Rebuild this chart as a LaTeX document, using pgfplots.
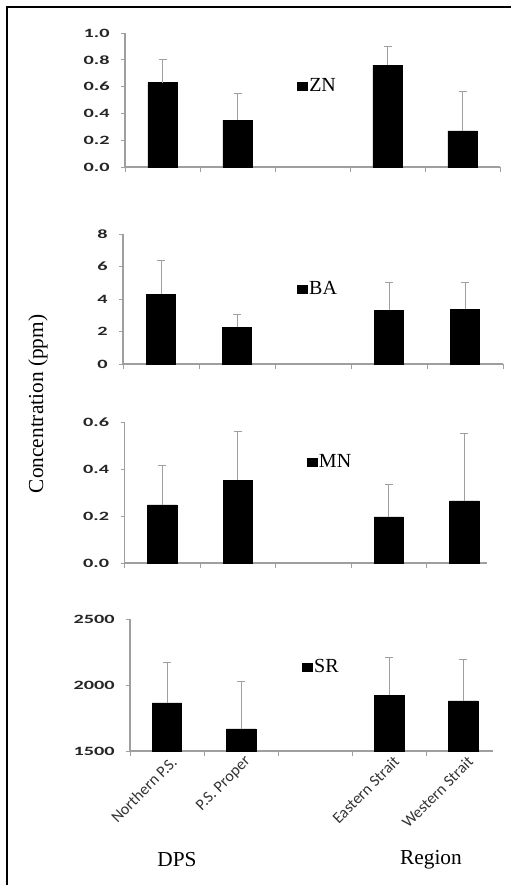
\documentclass[border=0pt]{standalone}
\usepackage{pgfplots}
\pgfplotsset{compat=1.18}
\usepackage{graphicx}
\usepackage{fontspec}
\setmainfont{Liberation Serif}
\newfontfamily\calibri{Carlito}

% tick numbers in the scan look wide and flat
\newcommand{\ytl}[1]{\scalebox{1.6}[1]{#1}}

\pgfplotsset{
  panel/.style={
    scale only axis, anchor=south west,
    axis x line*=bottom, axis y line*=left,
    axis line style={draw=gray!75, line width=0.9pt},
    tick style={draw=gray!75, line width=0.75pt},
    tick align=outside,
    /pgf/number format/assume math mode=true,
    xmin=-0.5,
    xtick={0,1,3,4}, xticklabels={},
    major x tick style={draw=none},
    minor xtick={-0.5,0.5,1.5,2.5,3.5,4.5},
    minor tick length=4pt, major tick length=3pt,
    yticklabel style={font=\calibri\bfseries\fontsize{9.5}{9.5}\selectfont,
      text=black!85, xshift=-5pt},
    legend style={draw=none, fill=none, inner sep=0pt, anchor=west,
      font=\fontsize{15}{15}\selectfont, nodes={inner sep=1pt}},
  },
  errb/.style={ybar, fill=black, draw=black, bar width=22pt,
    legend image code/.code={\fill[black] (0pt,-3pt) rectangle (7.5pt,3pt);},
    error bars/.cd, y dir=plus, y explicit,
    error bar style={draw=gray!75, line width=0.75pt},
    error mark options={draw=gray!75, rotate=90, mark size=3pt, line width=0.75pt}},
}

\begin{document}
\begin{tikzpicture}
\useasboundingbox (0,0) rectangle (383.25pt,-663.75pt);
\draw[line width=1.9pt] (5.25pt,-663.75pt) -- (5.25pt,-5.25pt) -- (383.25pt,-5.25pt);

% ZN
\begin{axis}[panel, at={(93.75pt,-125.25pt)}, width=281.25pt, height=100.5pt,
  xmax=4.5, ymin=0, ymax=1, ytick={0,0.2,0.4,0.6,0.8,1.0},
  yticklabel={\ytl{\pgfmathprintnumber[fixed,fixed zerofill,precision=1]{\tick}}},
  legend style={at={(0.459,0.604)}}]
\addplot[errb] coordinates {(0,0.63) +- (0,0.17) (1,0.35) +- (0,0.20) (3,0.76) +- (0,0.14) (4,0.27) +- (0,0.29)};
\legend{ZN}
\end{axis}

% BA
\begin{axis}[panel, at={(92.25pt,-273pt)}, width=285pt, height=97.5pt,
  xmax=4.5, ymin=0, ymax=8, ytick={0,2,4,6,8},
  yticklabel={\ytl{\pgfmathprintnumber{\tick}}},
  legend style={at={(0.458,0.577)}}]
\addplot[errb] coordinates {(0,4.3) +- (0,2.1) (1,2.27) +- (0,0.8) (3,3.3) +- (0,1.7) (4,3.37) +- (0,1.63)};
\legend{BA}
\end{axis}

% MN
\begin{axis}[panel, at={(93.375pt,-422.25pt)}, width=271.875pt, height=105.75pt,
  xmax=4.3, ymin=0, ymax=0.6, ytick={0,0.2,0.4,0.6},
  yticklabel={\ytl{\pgfmathprintnumber[fixed,fixed zerofill,precision=1]{\tick}}},
  legend style={at={(0.503,0.716)}}]
\addplot[errb] coordinates {(0,0.247) +- (0,0.17) (1,0.353) +- (0,0.207) (3,0.196) +- (0,0.14) (4,0.264) +- (0,0.286)};
\legend{MN}
\end{axis}

% SR
\begin{axis}[panel, at={(97.5pt,-563.25pt)}, width=272.25pt, height=99pt,
  xmax=4.4, ymin=1500, ymax=2500, ytick={1500,2000,2500},
  yticklabel={\ytl{\pgfmathprintnumber[1000 sep={}]{\tick}}},
  xticklabels={Northern P.S.,P.S. Proper,Eastern Strait,Western Strait},
  xticklabel style={rotate=45, anchor=east, yshift=-6pt, xshift=5pt,
    font=\calibri\fontsize{12}{12}\selectfont, text=black!80},
  legend style={at={(0.474,0.636)}}]
\addplot[errb] coordinates {(0,1864) +- (0,303) (1,1667) +- (0,356) (3,1924) +- (0,288) (4,1879) +- (0,318)};
\legend{SR}
\end{axis}

\node[rotate=90, font=\fontsize{16}{16}\selectfont] at (28.5pt,-303pt) {Concentration (ppm)};
\node[font=\fontsize{16}{16}\selectfont] at (132.75pt,-645pt) {DPS};
\node[font=\fontsize{16}{16}\selectfont] at (323.25pt,-645pt) {Region};
\end{tikzpicture}
\end{document}
